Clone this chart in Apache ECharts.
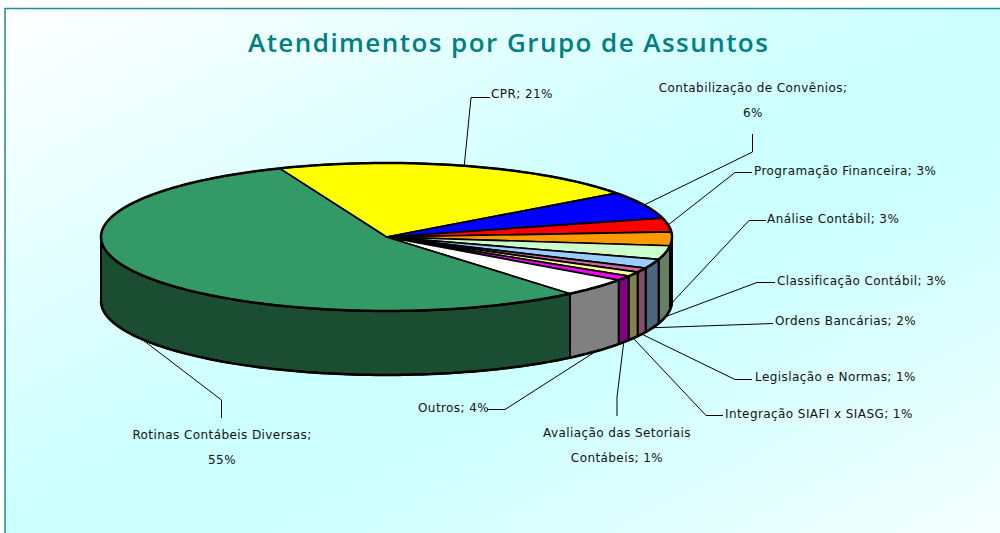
<!DOCTYPE html>
<html><head><meta charset="utf-8">
<style>
html,body{margin:0;padding:0;background:#fff}
#c{width:1000px;height:533px}
svg text{letter-spacing:.42px}
svg text[style*="26px"]{letter-spacing:1.45px}
</style>
<script src="https://cdn.jsdelivr.net/npm/echarts@6/dist/echarts.min.js"></script>
</head><body><div id="c"></div>
<script>
// --- data (clockwise from the green/yellow edge) ---
const categories = ['CPR','Contabilização de Convênios','Programação Financeira','Análise Contábil','Classificação Contábil','Ordens Bancárias','Legislação e Normas','Integração SIAFI x SIASG','Avaliação das Setoriais\nContábeis','Outros','Rotinas Contábeis Diversas'];
const values = [21,6,3,3,3,2,1,1,1,4,55];
const titleText = 'Atendimentos por Grupo de Assuntos';
// --- styles ---
const topColors  = ['#FFFF00','#0000FF','#FF0000','#FF9900','#CCFFCC','#99CCFF','#CC6699','#FFFF99','#FF00FF','#FFFFFF','#339966'];
const sideColors = ['#808000','#000080','#800000','#804D00','#668066','#4D6680','#805068','#808050','#800080','#808080','#1B4D33'];
// --- projection of the tilted disc ---
const CX=386.5, CY=237, RX=285.5, RY=74, DEPTH=64, START=338;
// --- label layout: label anchor, align, and leader elbows after the slice anchor ---
const labelPos = [[491,94,'left'],[753,100,'center'],[754,171,'left'],[767,219,'left'],[777,281,'left'],[775,321,'left'],[755,377,'left'],[725,414,'left'],[617,445,'center'],[418,408,'left'],[222,447,'center']];
const elbows = [[[471,97.5],[490,97.5]],[[752.5,152],[752.5,134]],[[735,172.5],[752,172.5]],[[749,220.5],[766,220.5]],[[757,282.5],[775,282.5]],[[773,323.5]],[[735,379.5],[752,379.5]],[[706,415.5],[723,415.5]],[[617,397],[617,416]],[[505,409.5],[487,409.5]],[[221.5,400],[221.5,418]]];
const lowerAnchor = [false,false,false,true,true,true,true,true,true,true,true];

const total = values.reduce((a,b)=>a+b,0);
const cum = values.reduce((a,v)=>{a.push(a[a.length-1]+v);return a;},[0]);
const ang = v => echarts.number.linearMap(v,[0,total],[START,START+360])*Math.PI/180;
const pt = (t,d) => [CX+RX*Math.sin(t), CY-RY*Math.cos(t)+(d||0)];
function arc(a,b,d){const n=Math.max(2,Math.ceil(Math.abs(b-a)/0.02));const r=[];for(let i=0;i<=n;i++)r.push(pt(a+(b-a)*i/n,d));return r;}
const STROKE='#000';
function sideItem(params,api){
  const i=params.dataIndex, v=api.value(0);
  let a=ang(cum[i]), b=ang(cum[i]+v);
  const lo=Math.PI/2, hi=3*Math.PI/2;
  // normalise into the front half of the disc
  const two=2*Math.PI; while(a>=two){a-=two;b-=two;}
  a=Math.max(a,lo); b=Math.min(b,hi);
  if(b<=a) return {type:'group',children:[]};
  const pts=arc(a,b,0).concat(arc(b,a,DEPTH));
  return {type:'group',children:[
    {type:'polygon',shape:{points:pts},style:{fill:sideColors[i],stroke:STROKE,lineWidth:2,lineJoin:'round'}},
    {type:'polyline',shape:{points:arc(a,b,DEPTH)},style:{fill:'none',stroke:STROKE,lineWidth:2.5}}
  ]};
}
function topItem(params,api){
  const i=params.dataIndex, v=api.value(0);
  const rim=arc(ang(cum[i]),ang(cum[i]+v),0);
  return {type:'group',children:[
    {type:'polygon',shape:{points:[[CX,CY]].concat(rim)},style:{fill:topColors[i],stroke:STROKE,lineWidth:1.7,lineJoin:'round'}},
    {type:'polyline',shape:{points:rim},style:{fill:'none',stroke:STROKE,lineWidth:2.5}}
  ]};
}
function labelItem(params,api){
  const i=params.dataIndex, v=api.value(0);
  const mid=ang(cum[i]+v/2);
  const start=pt(mid,lowerAnchor[i]?DEPTH:0);
  const [lx,ly,al]=labelPos[i];
  const brk=(i===1||i===10);
  const txt=categories[i]+';'+(brk?'\n':' ')+v+'%';
  return {type:'group',children:[
    {type:'polyline',shape:{points:[start].concat(elbows[i])},style:{fill:'none',stroke:'#000',lineWidth:1}},
    {type:'text',style:{x:lx,y:ly,text:txt,align:al,verticalAlign:'middle',font:'12px "DejaVu Sans"',fill:'#111',lineHeight:25}}
  ]};
}
const chart=echarts.init(document.getElementById('c'),null,{renderer:'svg'});
const rows=values.map((v,i)=>({name:categories[i],value:[v]}));
chart.setOption({
  animation:false,
  backgroundColor:'#fff',
  title:{text:titleText,left:243,top:24,textStyle:{color:'#008080',fontFamily:'Open Sans',fontSize:26,fontWeight:600}},
  graphic:[{type:'rect',silent:true,z:-10,shape:{x:5,y:8.5,width:1100,height:700},
    style:{stroke:'#1a8f8f',lineWidth:1.5,fill:new echarts.graphic.LinearGradient(5,8,435,826,[{offset:0,color:'#FFFFFF'},{offset:.5,color:'#CCFFFF'},{offset:.62,color:'#CCFFFF'},{offset:1,color:'#F4FFFF'}],true)}}],
  series:[
    {type:'custom',name:'lados',coordinateSystem:'none',renderItem:sideItem,data:rows,silent:true,z:2},
    {type:'custom',name:'topo',coordinateSystem:'none',renderItem:topItem,data:rows,silent:true,z:3},
    {type:'custom',name:'rotulos',coordinateSystem:'none',renderItem:labelItem,data:rows,silent:true,z:1}
  ]
});
</script></body></html>
